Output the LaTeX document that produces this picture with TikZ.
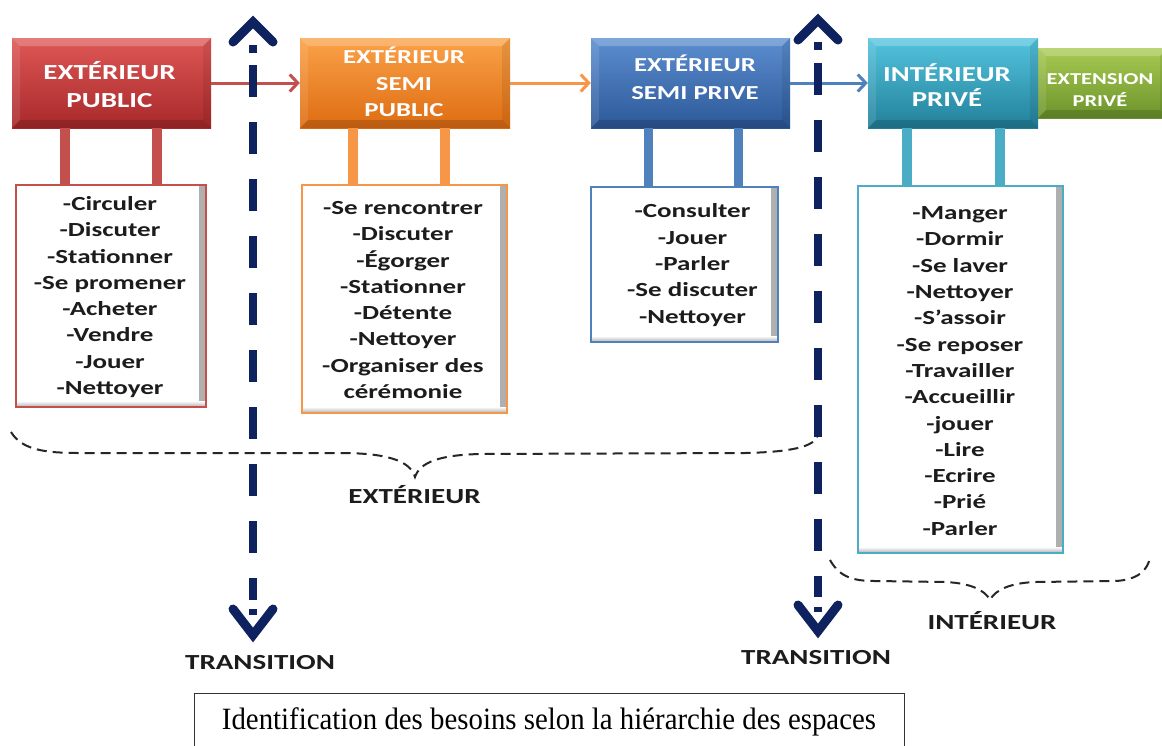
\documentclass[tikz,border=0pt]{standalone}
\usepackage{fontspec}
\newfontfamily\cb{Carlito}[FakeStretch=1.35]
\newfontfamily\tms{Liberation Serif}[FakeStretch=0.93]
\usetikzlibrary{arrows.meta,shadows,calc}
\definecolor{redA}{RGB}{222,88,86}
\definecolor{redB}{RGB}{168,40,42}
\definecolor{redL}{RGB}{196,80,78}
\definecolor{orA}{RGB}{250,162,72}
\definecolor{orB}{RGB}{222,108,18}
\definecolor{orL}{RGB}{247,150,70}
\definecolor{blA}{RGB}{92,142,208}
\definecolor{blB}{RGB}{44,88,152}
\definecolor{blL}{RGB}{79,129,189}
\definecolor{tlA}{RGB}{84,196,222}
\definecolor{tlB}{RGB}{34,128,154}
\definecolor{tlL}{RGB}{75,172,198}
\definecolor{grA}{RGB}{168,202,82}
\definecolor{grB}{RGB}{108,148,44}
\definecolor{navy}{RGB}{14,34,96}
\definecolor{ink}{RGB}{28,28,28}
\tikzset{
  bevel/.style={path picture={
    \fill[white,opacity=.22] (path picture bounding box.north west) -- (path picture bounding box.north east) -- ([shift={(-8pt,-8pt)}]path picture bounding box.north east) -- ([shift={(8pt,-8pt)}]path picture bounding box.north west) -- cycle;
    \fill[white,opacity=.10] (path picture bounding box.north west) -- (path picture bounding box.south west) -- ([shift={(8pt,8pt)}]path picture bounding box.south west) -- ([shift={(8pt,-8pt)}]path picture bounding box.north west) -- cycle;
    \fill[black,opacity=.15] (path picture bounding box.south west) -- (path picture bounding box.south east) -- ([shift={(-8pt,8pt)}]path picture bounding box.south east) -- ([shift={(8pt,8pt)}]path picture bounding box.south west) -- cycle;
    \fill[black,opacity=.08] (path picture bounding box.north east) -- (path picture bounding box.south east) -- ([shift={(-8pt,8pt)}]path picture bounding box.south east) -- ([shift={(-8pt,-8pt)}]path picture bounding box.north east) -- cycle;
  }},
  hdr/.style 2 args={top color=#1, bottom color=#2, draw=none, inner sep=0pt, bevel},
  htext/.style={text=white, align=center, inner sep=0pt},
  listbox/.style={draw=#1, line width=2pt, fill=white, inner sep=0pt,
    path picture={
      \shade[left color=white, right color=black!32] ([xshift=-7pt]path picture bounding box.north east) rectangle (path picture bounding box.south east);
      \shade[top color=white, bottom color=black!32] ([yshift=6pt]path picture bounding box.south west) rectangle (path picture bounding box.south east);
    }},
  ltext/.style={text=ink, align=center, inner sep=0pt, font=\cb\bfseries\fontsize{20}{26.3}\selectfont},
  hlink/.style={draw=#1, line width=3pt, -{Straight Barb[length=8pt,width=17pt,line width=3pt]}},
  pillar/.style={draw=#1, line width=10pt},
  tdash/.style={draw=navy, line width=8pt, dash pattern=on 32pt off 25pt},
  tline/.style={draw=navy, line width=8pt},
  tchev/.style={draw=navy, line width=9pt, line join=miter, line cap=round},
  brace/.style={draw=black!85, line width=2pt, dash pattern=on 10pt off 6pt},
  lbl/.style={text=ink, inner sep=0pt, font=\cb\bfseries\fontsize{21.5}{26}\selectfont},
}
\begin{document}
\begin{tikzpicture}[x=1pt,y=-1pt]
\useasboundingbox (0,0) rectangle (1162,745);
\clip (0,0) rectangle (1162,745);
\fill[white] (0,0) rectangle (1162,745);

% header boxes
\node[hdr={redA}{redB}, minimum width=199pt, minimum height=90pt] (b1) at (111.5,83) {};
\node[hdr={orA}{orB}, minimum width=210pt, minimum height=90pt] (b2) at (405,83) {};
\node[hdr={blA}{blB}, minimum width=199pt, minimum height=90pt] (b3) at (690.5,83) {};
\node[hdr={grA}{grB}, minimum width=130pt, minimum height=70pt] (b5) at (1103,83) {};
\node[hdr={tlA}{tlB}, minimum width=170pt, minimum height=90pt] (b4) at (953,83) {};

\node[htext, font=\cb\bfseries\fontsize{21.5}{28}\selectfont] (h1) at (109.5,85) {EXTÉRIEUR\\PUBLIC};
\node[htext, font=\cb\bfseries\fontsize{19.8}{26.5}\selectfont] (h2) at (404,82) {EXTÉRIEUR\\SEMI\\PUBLIC};
\node[htext, font=\cb\bfseries\fontsize{19.8}{28}\selectfont] (h3) at (695,77) {EXTÉRIEUR\\SEMI PRIVE};
\node[htext, font=\cb\bfseries\fontsize{21.3}{25}\selectfont] (h4) at (947,85.5) {INTÉRIEUR\\PRIVÉ};
\node[htext, font=\cb\bfseries\fontsize{16.6}{22}\selectfont] (h5) at (1100,90) {EXTENSION\\PRIVÉ};

% list boxes
\node[listbox=redL, minimum width=190pt, minimum height=222pt] (l1) at (111,296) {};
\node[listbox=orL, minimum width=205pt, minimum height=228pt] (l2) at (404.5,299) {};
\node[listbox=blL, minimum width=187pt, minimum height=155pt] (l3) at (684.5,264.5) {};
\node[listbox=tlL, minimum width=205pt, minimum height=367pt] (l4) at (960.5,369.5) {};

\node[ltext] (lt1) at (110,297) {-Circuler\\-Discuter\\-Stationner\\-Se promener\\-Acheter\\-Vendre\\-Jouer\\-Nettoyer};
\node[ltext] (lt2) at (403,300) {-Se rencontrer\\-Discuter\\-Égorger\\-Stationner\\-Détente\\-Nettoyer\\-Organiser des\\cérémonie};
\node[ltext] (lt3) at (692.5,265) {-Consulter\\-Jouer\\-Parler\\-Se discuter\\-Nettoyer};
\node[ltext] (lt4) at (960,371) {-Manger\\-Dormir\\-Se laver\\-Nettoyer\\-S’assoir\\-Se reposer\\-Travailler\\-Accueillir\\-jouer\\-Lire\\-Ecrire\\-Prié\\-Parler};

% pillars
\coordinate (p1a) at (65,0);  \coordinate (p1b) at (157,0);
\coordinate (p2a) at (353,0); \coordinate (p2b) at (445,0);
\coordinate (p3a) at (648,0); \coordinate (p3b) at (738,0);
\coordinate (p4a) at (907,0); \coordinate (p4b) at (1000,0);
\draw[pillar=redL] (p1a |- b1.south) -- (p1a |- l1.north);
\draw[pillar=redL] (p1b |- b1.south) -- (p1b |- l1.north);
\draw[pillar=orL] (p2a |- b2.south) -- (p2a |- l2.north);
\draw[pillar=orL] (p2b |- b2.south) -- (p2b |- l2.north);
\draw[pillar=blL, line width=9pt] (p3a |- b3.south) -- (p3a |- l3.north);
\draw[pillar=blL, line width=9pt] (p3b |- b3.south) -- (p3b |- l3.north);
\draw[pillar=tlL] (p4a |- b4.south) -- (p4a |- l4.north);
\draw[pillar=tlL] (p4b |- b4.south) -- (p4b |- l4.north);

% links
\draw[hlink=redL] (b1.east) -- (b2.west);
\draw[hlink=orL] (b2.east) -- (b3.west);
\draw[hlink=blL] (b3.east) -- (b4.west);

% braces
\coordinate (ecusp) at (415,477);
\draw[brace] (11,432) .. controls (22,450) and (45,453) .. (80,453) -- (340,453) .. controls (385,453) and (410,460) .. (ecusp) .. controls (420,462) and (440,455) .. (480,454) -- (745,453) .. controls (790,452) and (815,447) .. (818,435);
\coordinate (icusp) at (990,600);
\draw[brace] (830,560) .. controls (840,578) and (855,581) .. (875,581) -- (945,582) .. controls (970,583) and (985,590) .. (icusp) .. controls (995,590) and (1010,583) .. (1035,582) -- (1115,581) .. controls (1138,580) and (1148,570) .. (1150,557);

% transitions
\coordinate (T1u) at (253,22);
\coordinate (T1d) at (253,635);
\coordinate (T2u) at (818,20);
\coordinate (T2d) at (818,631);
\draw[tchev] ($(T1u)+(-20,20)$) -- (T1u) -- ($(T1u)+(20,20)$);
\draw[tline] ($(T1u)+(0,23)$) -- ($(T1u)+(0,31)$);
\draw[tdash] ($(T1u)+(0,43)$) -- ($(T1d)+(0,-35)$);
\draw[tline] ($(T1d)+(0,-26)$) -- ($(T1d)+(0,-20)$);
\draw[tchev] ($(T1d)+(-20,-26)$) -- (T1d) -- ($(T1d)+(20,-26)$);

\draw[tchev] ($(T2u)+(-20,20)$) -- (T2u) -- ($(T2u)+(20,20)$);
\draw[tline] ($(T2u)+(0,22)$) -- ($(T2u)+(0,30)$);
\draw[tdash] ($(T2u)+(0,43)$) -- ($(T2d)+(0,-34)$);
\draw[tline] ($(T2d)+(0,-24)$) -- ($(T2d)+(0,-19)$);
\draw[tchev] ($(T2d)+(-20,-26)$) -- (T2d) -- ($(T2d)+(20,-26)$);

% labels
\node[lbl] (tr1) at (260,663) {TRANSITION};
\node[lbl] (tr2) at (816,658) {TRANSITION};
\node[lbl] (ext) at (414.5,495) {EXTÉRIEUR};
\node[lbl] (int) at (992,621) {INTÉRIEUR};

% caption
\node[draw=black!80, line width=1pt, minimum width=710pt, minimum height=80pt, inner sep=0pt] (capbox) at (549,733) {};
\node[inner sep=0pt, font=\tms\fontsize{31}{36}\selectfont] (cap) at (549,722) {Identification des besoins selon la hiérarchie des espaces};
\end{tikzpicture}
\end{document}
